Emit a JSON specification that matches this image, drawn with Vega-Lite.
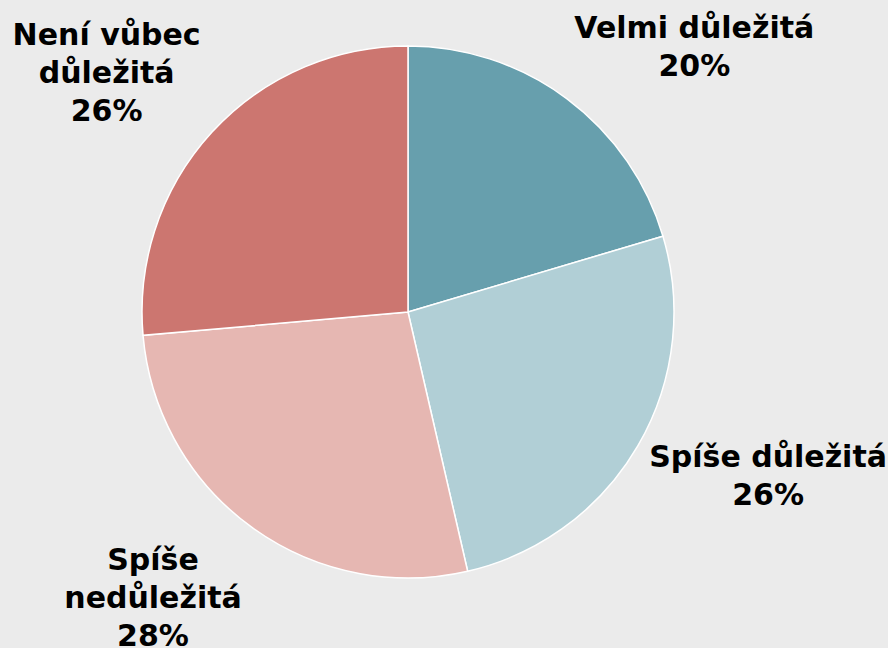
{
  "$schema": "https://vega.github.io/schema/vega-lite/v6.json",
  "autosize": "none",
  "width": 816,
  "height": 624,
  "padding": {"left": 0, "top": 0, "right": 72, "bottom": 24},
  "background": "#ebebeb",
  "config": {"view": {"stroke": null}},
  "data": {"values": [
    {"cat": "Velmi důležitá", "order": 1, "value": 20.4, "label": "Velmi důležitá\n20%"},
    {"cat": "Spíše důležitá", "order": 2, "value": 26.0, "label": "Spíše důležitá\n26%"},
    {"cat": "Spíše nedůležitá", "order": 3, "value": 27.2, "label": "Spíše\nnedůležitá\n28%"},
    {"cat": "Není vůbec důležitá", "order": 4, "value": 26.4, "label": "Není vůbec\ndůležitá\n26%"}
  ]},
  "encoding": {
    "theta": {"field": "value", "type": "quantitative", "stack": true},
    "order": {"field": "order", "type": "quantitative", "sort": "ascending"}
  },
  "layer": [
    {
      "mark": {"type": "arc", "outerRadius": 266, "stroke": "white", "strokeWidth": 1.5},
      "encoding": {
        "color": {"field": "cat", "type": "nominal", "legend": null,
          "scale": {"domain": ["Velmi důležitá", "Spíše důležitá", "Spíše nedůležitá", "Není vůbec důležitá"],
                    "range": ["#679fad", "#b1cfd6", "#e6b7b2", "#cc7670"]}}
      }
    },
    {
      "mark": {"type": "text", "radius": 330, "dx": 89, "dy": -18, "font": "DejaVu Sans", "fontWeight": "bold", "fontSize": 30, "lineHeight": 38, "lineBreak": "\n", "align": "center", "baseline": "middle", "color": "black"},
      "encoding": {"text": {"condition": {"test": "datum.order === 1", "field": "label"}, "value": ""}}
    },
    {
      "mark": {"type": "text", "radius": 330, "dx": 75, "dy": -20, "font": "DejaVu Sans", "fontWeight": "bold", "fontSize": 30, "lineHeight": 38, "lineBreak": "\n", "align": "center", "baseline": "middle", "color": "black"},
      "encoding": {"text": {"condition": {"test": "datum.order === 2", "field": "label"}, "value": ""}}
    },
    {
      "mark": {"type": "text", "radius": 330, "dx": -61, "dy": -18, "font": "DejaVu Sans", "fontWeight": "bold", "fontSize": 30, "lineHeight": 38, "lineBreak": "\n", "align": "center", "baseline": "middle", "color": "black"},
      "encoding": {"text": {"condition": {"test": "datum.order === 3", "field": "label"}, "value": ""}}
    },
    {
      "mark": {"type": "text", "radius": 330, "dx": -58, "dy": -53, "font": "DejaVu Sans", "fontWeight": "bold", "fontSize": 30, "lineHeight": 38, "lineBreak": "\n", "align": "center", "baseline": "middle", "color": "black"},
      "encoding": {"text": {"condition": {"test": "datum.order === 4", "field": "label"}, "value": ""}}
    }
  ]
}
